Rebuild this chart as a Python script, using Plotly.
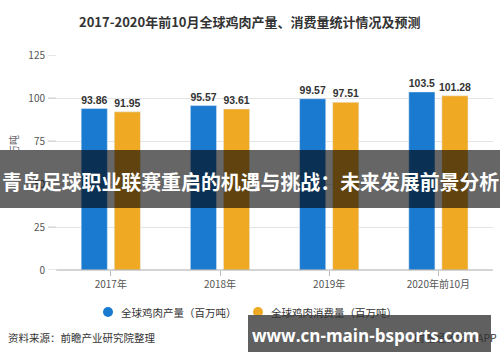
import plotly.graph_objects as go

categories = ["2017年", "2018年", "2019年", "2020年前10月"]
production = [93.86, 95.57, 99.57, 103.5]
production_labels = ["93.86", "95.57", "99.57", "103.5"]
consumption = [91.95, 93.61, 97.51, 101.28]
consumption_labels = ["91.95", "93.61", "97.51", "101.28"]
series_names = ["全球鸡肉产量（百万吨）", "全球鸡肉消费量（百万吨）"]
y_ticks = [0, 25, 50, 75, 100, 125]

W, H = 500, 362
L, R, T, B = 48, 493, 55, 270

def px(x):
    return (x - L) / (R - L)

def py(y):
    return (B - y) / (B - T)

BLUE = "#1a7acf"
ORANGE = "#f0a923"
FONT = "Noto Sans CJK SC"

fig = go.Figure()
for vals, labels, col, name in [(production, production_labels, BLUE, series_names[0]),
                                (consumption, consumption_labels, ORANGE, series_names[1])]:
    fig.add_trace(go.Bar(x=categories, y=vals, text=labels, name=name,
                         textposition="outside", marker_color=col, showlegend=False,
                         textfont=dict(size=11, color="#333", family="Liberation Sans",
                                       weight="bold"),
                         cliponaxis=False))

cat_w = 109.2
left_ext = (56.2 - L) / cat_w
fig.update_layout(
    width=W, height=H,
    margin=dict(l=L, r=W - R, t=T, b=H - B, pad=0, autoexpand=False),
    paper_bgcolor="white", plot_bgcolor="white",
    barmode="group", bargap=0.394, bargroupgap=0.21,
    uniformtext=dict(minsize=10, mode="show"),
    font=dict(family=FONT, size=10, color="#555"),
    showlegend=False,
    xaxis=dict(type="category", range=[-0.5 - left_ext, 3.5], showgrid=False,
               showline=False, ticks="outside", ticklen=5, tickcolor="#bbb",
               tickfont=dict(size=10, color="#555"), fixedrange=True),
    yaxis=dict(range=[0, 125], tickvals=y_ticks, showgrid=True, gridcolor="#e4e4e4",
               gridwidth=1, zeroline=False, showline=False, ticks="outside",
               ticklen=0, tickfont=dict(size=10, color="#555"), fixedrange=True),
)

def note(text, x, y, size, color, family=FONT, xanchor="center", angle=0):
    fig.add_annotation(text=text, xref="paper", yref="paper", x=px(x), y=py(y),
                       xanchor=xanchor, yanchor="middle", showarrow=False,
                       textangle=angle, font=dict(size=size, color=color, family=family))

# x-axis baseline from the first category edge
fig.add_shape(type="line", xref="paper", yref="paper", x0=px(56.2), x1=1, y0=0, y1=0,
              line=dict(color="#aaa", width=1))
# short gridline extensions into label area
for v in y_ticks:
    fig.add_shape(type="line", xref="paper", yref="y", x0=0, x1=px(56), y0=v, y1=v,
                  line=dict(color="#cfcfcf", width=1))

# manual legend
legend_items = [(108, series_names[0], BLUE), (258, series_names[1], ORANGE)]
for cx, name, col in legend_items:
    fig.add_shape(type="circle", xref="paper", yref="paper",
                  x0=px(cx - 5), x1=px(cx + 5), y0=py(317), y1=py(307),
                  fillcolor=col, line=dict(width=0))
    note(name, cx + 11, 312, 10.5, "#333", xanchor="left")

note("<b>2017-2020年前10月全球鸡肉产量、消费量统计情况及预测</b>", 250, 22, 13, "#333")
note("单位：百万吨", 13, 165, 10, "#666", angle=-90)
note("资料来源：前瞻产业研究院整理", 6, 337, 10.5, "#333", xanchor="left")
note("前瞻经济学人APP", 499, 337, 10.5, "#333", xanchor="right")

# overlay band
fig.add_shape(type="rect", xref="paper", yref="paper", x0=px(0), x1=px(500),
              y0=py(208), y1=py(150), fillcolor="rgba(0,0,0,0.6)",
              line=dict(width=0), layer="above")
note("<b>青岛足球职业联赛重启的机遇与挑战：未来发展前景分析</b>", 250, 181, 19.9, "white")
# bottom-right box
fig.add_shape(type="rect", xref="paper", yref="paper", x0=px(248), x1=px(491),
              y0=py(352), y1=py(315), fillcolor="rgba(90,90,90,0.96)",
              line=dict(width=0), layer="above")
note("<b>www.cn-main-bsports.com</b>", 366, 335, 17, "white", family="Open Sans")

fig.write_html("out.html", config={"displayModeBar": False},
               post_script="document.body.style.margin='0';document.body.style.padding='0';")
